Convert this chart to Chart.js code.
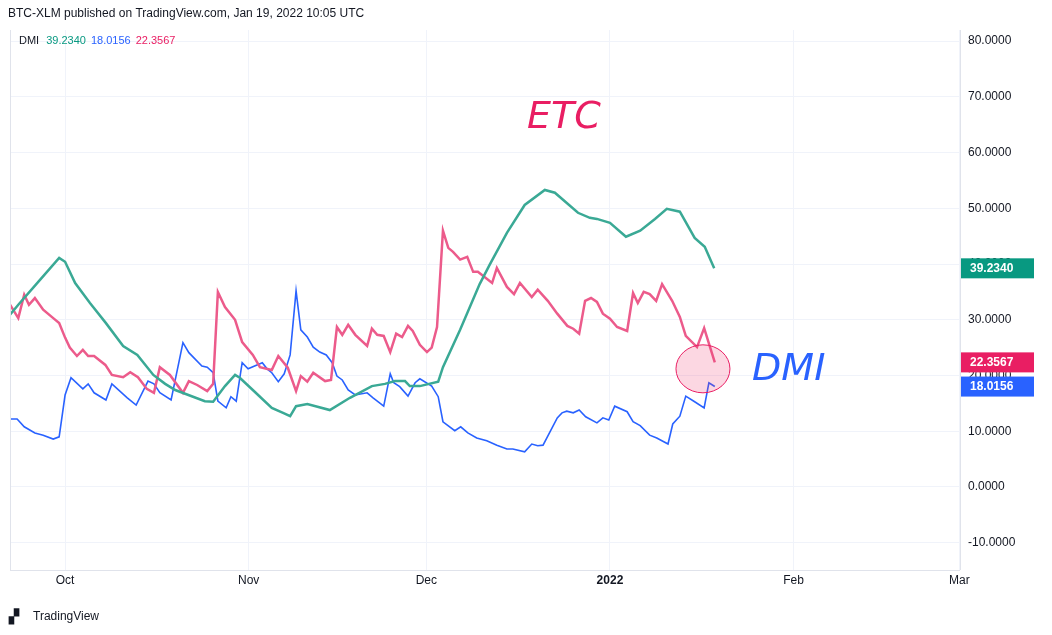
<!DOCTYPE html>
<html><head><meta charset="utf-8">
<script src="https://cdn.jsdelivr.net/npm/chart.js@4.4.0/dist/chart.umd.min.js"></script>
<style>html,body{margin:0;padding:0;background:#fff}#w{position:relative;width:1052px;height:635px}canvas{display:block}</style>
</head><body><div id="w"><canvas id="c" width="1052" height="635" style="width:1052px;height:635px"></canvas></div>
<script>
// day 0 = Oct 1 2021
const tickDays=[0,31,61,92,123,151];
const tickLabels=['Oct','Nov','Dec','2022','Feb','Mar'];
const yTicks=[-10,0,10,20,30,40,50,60,70,80];

const greenDays=[-9.3,-7.9,-4.2,-1.0,0,1.7,4.2,6.9,9.8,12.2,14.9,16.9,18.6,23.6,25.0,27.0,28.7,29.5,32.1,34.9,36.8,38.0,39.0,40.9,44.7,48.1,51.8,54.0,55.7,57.4,58.2,59.9,63.0,63.8,66.7,70.0,71.7,74.6,77.6,81.0,82.7,86.6,88.6,89.8,92.0,94.7,97.1,99.6,101.6,103.8,106.3,108.0,109.6];
const greenVals=[30.9,32.7,37.2,41.1,40.4,36.6,33,29.4,25.3,23.7,20.1,18.5,17.4,15.4,15.3,18.1,20.1,19.6,17,14.2,13.3,12.7,14.5,14.9,13.8,16,18.1,18.5,19,19,18.1,18.1,18.9,21.5,28.2,36.4,39.9,45.6,50.6,53.3,52.8,49.2,48.3,48.1,47.4,44.9,46,48.1,49.9,49.4,44.7,43.1,39.23];

const pinkDays=[-9.3,-7.9,-6.9,-6.1,-5.1,-3.7,-2.0,-1.0,0,0.8,2.0,3.0,3.9,4.9,6.8,7.9,9.8,11,12.3,13.8,15,16,17.7,19.9,20.9,22.3,24,25,25.8,27,28.7,29.9,31.7,32.9,34.9,36.0,37.6,39.0,39.8,40.9,41.9,43.9,44.9,45.9,46.8,47.8,49.0,51.0,51.8,52.7,53.8,54.9,55.9,56.9,57.9,58.7,59.9,61.1,61.9,62.8,63.8,64.7,65.5,66.7,67.9,68.9,69.7,72.1,72.9,74.6,75.8,76.8,78.8,79.8,81.5,83.1,84.8,85.8,86.8,87.8,88.8,89.8,90.8,92,93.2,94.9,95.9,96.7,97.7,98.7,99.8,100.8,102.5,103.8,104.8,106.7,107.9,109.7];
const pinkVals=[32.7,30.3,34.5,32.7,33.9,31.8,30.3,29.4,26.8,25,23.5,24.6,23.5,23.5,21.9,20.1,19.7,20.6,19.7,17.6,16.9,21.5,20.1,16.9,19,18.3,17.2,18.5,35,32.3,30,26,23.7,21.5,21,23.5,21.4,17.2,19.9,18.9,20.5,19,19.2,28.7,27.3,29.1,27.3,25.3,28.4,27.3,27.1,24.2,27.5,26.9,28.9,28,25.5,24.2,25,28.7,46,42.9,42.2,40.8,41.3,38.6,38.6,36.6,39.3,35.9,34.6,36.6,34.1,35.4,33.4,31.1,28.9,28.4,27.5,33.4,33.9,33.2,31.1,30.2,28.7,28,34.8,33,35,34.6,33.4,36.4,33.4,30.5,27.1,25.1,28.5,22.36];

const blueDays=[-9.3,-8.1,-6.9,-5.1,-3.7,-2,-1,0,1,3,3.9,4.9,6.9,7.9,10.5,12,14,15,16,17.9,19.9,20.9,23.1,24,25,25.8,27.2,28,28.9,29.9,30.9,33.3,34.1,34.9,36,37,38,39,39.8,40.9,41.9,43,44.1,45.1,45.9,46.8,47.8,49,51,52,53.8,54.9,55.5,56.5,57.9,59.1,59.9,61.9,63,63.8,65.8,66.8,68,69.5,71.2,72.9,74.6,75.6,77.6,78.8,79.8,80.7,83.1,83.9,84.7,85.8,86.8,87.9,89.8,90.8,91.8,92.8,94.9,95.9,97.1,98.7,99.9,101.8,102.6,103.8,104.8,106.3,107.9,108.7,109.7];
const blueVals=[12.2,12.2,10.8,9.7,9.3,8.6,9,16.5,19.6,17.6,18.5,16.9,15.6,18.5,16,14.7,19,18.5,16.9,15.6,25.9,24.1,21.7,21.5,20.5,15.4,14.2,16.2,15.4,22.3,21.2,22.3,21.2,20.5,18.9,20.3,23.7,35.2,28.2,26.9,25.1,24.2,23.7,22.3,19.9,19.2,17.4,16.5,16.9,16,14.5,20.3,18.7,18,16.3,18.7,19.4,18.1,16.2,11.7,10.1,10.8,9.7,8.8,8.3,7.5,6.8,6.8,6.3,7.7,7.4,7.5,12.4,13.3,13.6,13.3,13.8,12.6,11.5,12.4,12,14.5,13.5,11.7,11,9.3,8.8,7.7,11.3,12.7,16.3,15.3,14.2,18.7,18.02];

const lastVals=['39.2340','18.0156','22.3567'];

const pts=(d,v)=>d.map((x,i)=>({x,y:v[i]}));
const FONT='"Liberation Sans", Arial, sans-serif';

const overlay={id:'overlay',
 afterDatasetsDraw(ch){
  const c=ch.ctx,xs=ch.scales.x,ys=ch.scales.y;
  c.save();
  c.beginPath();c.ellipse(xs.getPixelForValue(107.7),ys.getPixelForValue(21.2),27,24,0,0,Math.PI*2);
  c.fillStyle='rgba(242,54,110,0.2)';c.fill();c.strokeStyle='#e91e63';c.lineWidth=1;c.stroke();
  c.font='italic 38px "DejaVu Sans", sans-serif';c.textBaseline='middle';
  c.fillStyle='#e91e63';c.fillText('ETC',xs.getPixelForValue(78),ys.getPixelForValue(66.2));
  c.fillStyle='#2962ff';c.fillText('DMI',xs.getPixelForValue(116),ys.getPixelForValue(20.9));
  c.restore();
 },
 afterDraw(ch){
  const c=ch.ctx,ys=ch.scales.y,a=ch.chartArea;
  c.save();
  c.strokeStyle='#e0e3eb';c.lineWidth=1;
  c.beginPath();c.moveTo(a.left+0.5,a.top);c.lineTo(a.left+0.5,a.bottom);c.stroke();
  c.beginPath();c.moveTo(a.right+0.5,a.top);c.lineTo(a.right+0.5,a.bottom);c.stroke();
  c.beginPath();c.moveTo(a.left,a.bottom+0.5);c.lineTo(a.right,a.bottom+0.5);c.stroke();
  const b=[[39.234,'#089981',lastVals[0]],[22.3567,'#e91e63',lastVals[2]],[18.0156,'#2962ff',lastVals[1]]];
  c.font='bold 12px '+FONT;c.textBaseline='middle';
  b.forEach(([v,col,t])=>{const y=ys.getPixelForValue(v);c.fillStyle=col;c.fillRect(a.right+1,y-10,73,20);c.fillStyle='#fff';c.fillText(t,a.right+10,y+0.5);});
  c.fillStyle='#131722';c.font='12px '+FONT;c.fillText('BTC-XLM published on TradingView.com, Jan 19, 2022 10:05 UTC',8,14);
  c.font='11px '+FONT;
  let x=19;c.fillText('DMI',x,41);x+=c.measureText('DMI').width+7;
  [['#089981',lastVals[0]],['#2962ff',lastVals[1]],['#e91e63',lastVals[2]]].forEach(([col,t])=>{c.fillStyle=col;c.fillText(t,x,41);x+=c.measureText(t).width+5;});
  c.fillStyle='#131722';c.font='bold 13px '+FONT;c.fillText('▞',9,617);
  c.font='12px '+FONT;c.fillText('TradingView',33,617);
  c.restore();
 }};

new Chart(document.getElementById('c'),{
 type:'line',
 data:{datasets:[
  {data:pts(greenDays,greenVals),borderColor:'#3aa995',borderWidth:2.5},
  {data:pts(pinkDays,pinkVals),borderColor:'#ec5b8b',borderWidth:2.5},
  {data:pts(blueDays,blueVals),borderColor:'#2962ff',borderWidth:1.6}
 ]},
 options:{responsive:false,animation:false,devicePixelRatio:1,
  elements:{point:{radius:0},line:{tension:0,fill:false}},
  layout:{padding:{left:10,top:30,right:0,bottom:40}},
  plugins:{legend:{display:false},tooltip:{enabled:false}},
  scales:{
   x:{type:'linear',min:-9.3,max:151.1,
    afterBuildTicks:s=>{s.ticks=tickDays.map(v=>({value:v}));},
    afterFit:s=>{s.height=25;},
    ticks:{autoSkip:false,maxRotation:0,color:'#131722',font:c=>({family:FONT,size:12,weight:c.index===3?'bold':'normal'}),callback:(v,i)=>tickLabels[i]},
    grid:{color:'#f0f3fa',drawTicks:false},border:{display:false}},
   y:{position:'right',min:-14.9,max:82,
    afterBuildTicks:s=>{s.ticks=yTicks.map(v=>({value:v}));},
    afterFit:s=>{s.width=92;},
    ticks:{color:'#131722',font:{family:FONT,size:12},padding:8,callback:v=>v.toFixed(4)},
    grid:{color:'#f0f3fa',drawTicks:false},border:{display:false}}
  }},
 plugins:[overlay]
});
</script></body></html>
